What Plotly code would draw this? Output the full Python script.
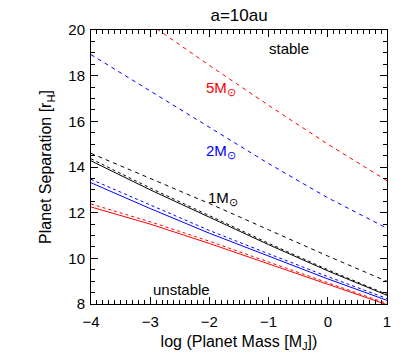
import plotly.graph_objects as go

# log planet mass [M_J]
log_mass = [-4, -3, -2, -1, 0, 1]

# dashed curves (stability boundaries, labelled by stellar mass)
sep_5msun_dash = [22.05, 20.25, 18.45, 16.70, 15.00, 13.40]
sep_2msun_dash = [18.92, 17.33, 15.74, 14.15, 12.65, 11.32]
sep_1msun_dash = [14.60, 13.50, 12.40, 11.25, 10.10, 8.99]

# solid curves
sep_black_solid = [14.27, 13.00, 11.80, 10.60, 9.45, 8.38]
sep_blue_solid = [13.31, 12.18, 11.10, 10.10, 9.10, 8.16]
sep_red_solid = [12.25, 11.50, 10.65, 9.75, 8.85, 7.97]

# dotted curves
sep_black_dot = [14.36, 13.08, 11.87, 10.66, 9.50, 8.42]
sep_blue_dot = [13.46, 12.33, 11.22, 10.20, 9.20, 8.24]
sep_red_dot = [12.38, 11.60, 10.75, 9.83, 8.92, 8.02]

x_ticks = [-4, -3, -2, -1, 0, 1]
y_ticks = [8, 10, 12, 14, 16, 18, 20]

RED = "#ff0000"
BLUE = "#0000ff"
BLACK = "#000000"

fig = go.Figure()

def add(y, color, dash):
    fig.add_trace(go.Scatter(x=log_mass, y=y, mode="lines",
                             line=dict(color=color, width=1, dash=dash),
                             showlegend=False, hoverinfo="skip"))

add(sep_red_dot, RED, "dot")
add(sep_blue_dot, BLUE, "dot")
add(sep_black_dot, BLACK, "dot")
add(sep_red_solid, RED, "solid")
add(sep_blue_solid, BLUE, "solid")
add(sep_black_solid, BLACK, "solid")
add(sep_5msun_dash, RED, "4px,4px")
add(sep_2msun_dash, BLUE, "4px,4px")
add(sep_1msun_dash, BLACK, "4px,4px")

FONT = "Liberation Sans"

def label(x, y, text, color):
    fig.add_annotation(x=x, y=y, text=text, showarrow=False,
                       font=dict(family=FONT, size=15, color=color))

label(-0.65, 19.2, "stable", BLACK)
label(-1.80, 17.43, "5M<sub>⊙</sub>", RED)
label(-1.80, 14.66, "2M<sub>⊙</sub>", BLUE)
label(-1.77, 12.63, "1M<sub>⊙</sub>", BLACK)
label(-2.47, 8.62, "unstable", BLACK)

axis_common = dict(
    showline=True, linecolor=BLACK, linewidth=1, mirror="ticks",
    ticks="inside", ticklen=7, tickcolor=BLACK, tickwidth=1,
    showgrid=False, zeroline=False,
    tickfont=dict(family=FONT, size=15, color=BLACK),
)

fig.update_layout(
    width=415, height=363,
    margin=dict(l=91, r=28, t=30, b=59),
    paper_bgcolor="white", plot_bgcolor="white",
    title=dict(text="a=10au", x=0.576, xanchor="center", y=0.958, yanchor="middle",
               font=dict(family=FONT, size=17, color=BLACK)),
    xaxis=dict(range=[-4, 1], tickvals=x_ticks, ticklabelstandoff=4,
               title=dict(text="log (Planet Mass [M<sub>J</sub>])", standoff=6,
                          font=dict(family=FONT, size=16, color=BLACK)),
               minor=dict(ticks="inside", dtick=0.1, ticklen=4, tickcolor=BLACK),
               **axis_common),
    yaxis=dict(range=[8, 20], tickvals=y_ticks, ticklabelstandoff=2,
               title=dict(text="Planet Separation [r<sub>H</sub>]", standoff=12,
                          font=dict(family=FONT, size=16, color=BLACK)),
               minor=dict(ticks="inside", dtick=0.5, ticklen=4, tickcolor=BLACK),
               **axis_common),
)

fig.write_html("out.html", config={"displayModeBar": False},
               post_script="document.body.style.margin='0';document.body.style.padding='0';")
